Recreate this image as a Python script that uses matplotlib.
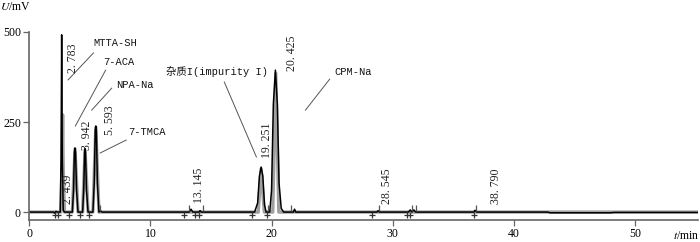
import matplotlib.pyplot as plt
import numpy as np

# Chromatogramm: Zeit in min, Signal in mV
t_black = [0, 2.0, 2.1, 2.2, 2.3, 2.55, 2.62, 2.67, 2.72, 2.80, 2.9,
           3.55, 3.65, 3.72, 3.77, 3.82, 3.9, 4.02,
           4.40, 4.50, 4.56, 4.60, 4.64, 4.72, 4.85,
           5.25, 5.36, 5.44, 5.49, 5.54, 5.62, 5.75, 5.9, 6.0, 6.2,
           13.2, 13.35, 13.5, 14.0, 14.1, 14.2,
           18.6, 18.85, 19.0, 19.14, 19.28, 19.42, 19.55,
           19.85, 20.0, 20.15, 20.32, 20.48, 20.62, 20.8, 21.0,
           21.8, 21.9, 22.0, 28.7, 28.8, 28.9,
           31.3, 31.45, 31.6, 31.75, 31.9, 36.7, 36.8, 36.95,
           42.8, 43.0, 48.0, 48.3, 55.2]
u_black = [0, 0, -3, 2, 0, 0, 150, 492, 150, 5, 0,
           0, 60, 165, 178, 165, 60, 0,
           0, 70, 165, 176, 165, 60, 0,
           0, 80, 225, 239, 225, 80, 0, 3, 0, 0,
           0, 8, 0, 0, 4, 0,
           0, 25, 100, 125, 100, 20, 0,
           0, 60, 300, 394, 300, 80, 10, 0,
           0, 8, 0, 0, 4, 0,
           0, 6, 0, 6, 0, 0, 5, 0,
           0, -2, -2, -1, -1]

# zweite (graue) Messung
t_grey = [0, 2.6, 2.7, 2.75, 2.8, 2.9,
          3.55, 3.77, 4.02, 4.40, 4.60, 4.85, 5.25, 5.49, 5.75,
          18.9, 19.14, 19.4, 20.1, 20.35, 20.6, 55.2]
u_grey = [0, 0, 120, 270, 120, 0,
          0, 175, 0, 0, 172, 0, 0, 235, 0,
          0, 120, 0, 0, 385, 0, 0]

# Integrationsmarken
mark_below = [2.1, 2.4, 3.3, 4.2, 4.9, 12.8, 13.7, 14.0, 18.4, 19.6,
              28.3, 31.2, 31.4, 36.7]
mark_above = [5.8, 13.2, 14.3, 19.7, 21.6, 28.9, 31.6, 31.9, 36.9]

# Retentionszeiten (Beschriftung)
rt_labels = ['2. 783', '2. 439', '3. 942', '5. 593', '13. 145',
             '19. 251', '20. 425', '28. 545', '38. 790']
rt_pos = [(3.6, 428), (3.2, 64), (4.75, 212), (6.65, 255), (13.98, 75),
          (19.66, 200), (21.72, 440), (29.55, 72), (38.5, 72)]

names = ['MTTA-SH', '7-ACA', 'NPA-Na', '7-TMCA', '杂质I(impurity I)', 'CPM-Na']
name_pos = [(5.25, 470), (6.1, 417), (7.2, 353), (8.2, 222), (11.3, 389), (25.2, 389)]
line_from = [(3.2, 367), (3.8, 239), (5.15, 283), (5.85, 164), (16.1, 361), (22.8, 283)]
line_to = [(5.3, 442), (6.3, 394), (6.8, 344), (8.0, 200), (18.75, 153), (24.8, 369)]

plt.rcParams['mathtext.fontset'] = 'stix'
fig = plt.figure(figsize=(7, 2.42), dpi=100)
ax = fig.add_axes([0.0419, 0.0909, 0.955, 0.777])

ax.plot(t_grey, u_grey, color='#a0a0a0', lw=2.4, solid_joinstyle='round')
ax.plot(t_black, u_black, color='black', lw=1.1, solid_joinstyle='round')
ax.plot(mark_below, [-8] * len(mark_below), '+', color='#333333', ms=4, mew=0.9)
ax.plot(mark_above, [12] * len(mark_above), '|', color='#555555', ms=5, mew=0.9)

for s, (x, y) in zip(rt_labels, rt_pos):
    ax.text(x, y, s, rotation=90, ha='center', va='center', fontsize=8.5,
            family='Liberation Serif', color='#222222')

for s, (x, y), p0, p1 in zip(names, name_pos, line_from, line_to):
    ax.text(x, y, s, ha='left', va='center', fontsize=7.5,
            family=['Liberation Mono', 'Noto Sans CJK SC'], color='#111111')
    ax.plot([p0[0], p1[0]], [p0[1], p1[1]], color='#555555', lw=0.7)

ax.set_xlim(0, 55.2)
ax.set_ylim(-22, 500)
ax.set_xticks([0, 10, 20, 30, 40, 50])
ax.set_yticks([0, 250, 500])
ax.spines['top'].set_visible(False)
ax.spines['right'].set_visible(False)
for s in ['left', 'bottom']:
    ax.spines[s].set_color('#666666')
    ax.spines[s].set_linewidth(1.2)
ax.tick_params(direction='out', length=4, width=0.9, color='#666666',
               labelsize=8.5, pad=2)
for lab in ax.get_xticklabels() + ax.get_yticklabels():
    lab.set_family('Liberation Serif')

fig.text(0.0, 1 - 7 / 242, r'$U$/mV', ha='left', va='center', fontsize=8.5,
         family='Liberation Serif')
fig.text(0.999, 1 - 236 / 242, r'$t$/min', ha='right', va='center', fontsize=8.5,
         family='Liberation Serif')

plt.savefig('out.png', dpi=100)
